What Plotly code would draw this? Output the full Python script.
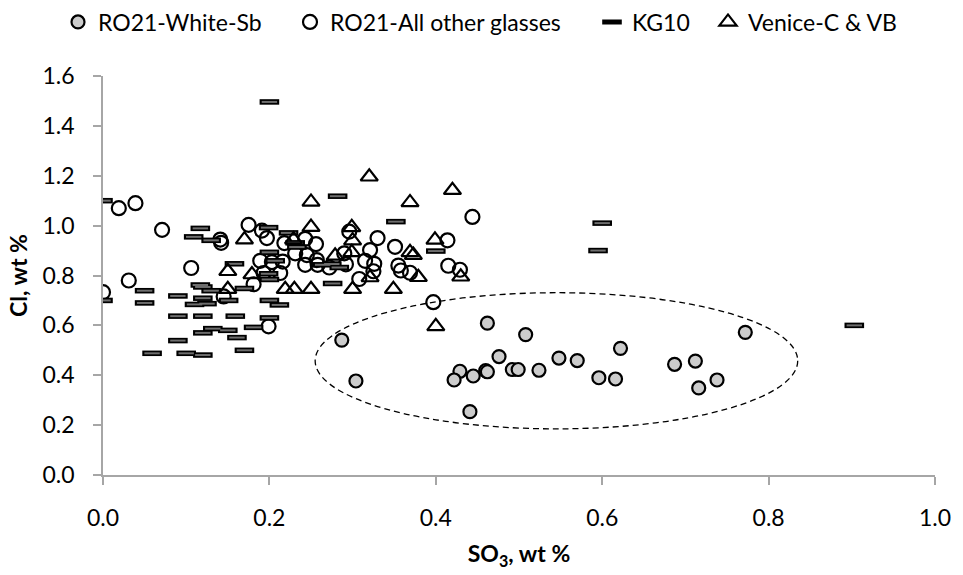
import plotly.graph_objects as go

# RO21-White-Sb (grey filled circles)
sb_x = [0.287, 0.304, 0.462, 0.508, 0.476, 0.429, 0.422, 0.445, 0.441, 0.460, 0.462, 0.492,
        0.499, 0.524, 0.548, 0.570, 0.596, 0.616, 0.622, 0.687, 0.712, 0.716, 0.738, 0.772]
sb_y = [0.541, 0.377, 0.609, 0.563, 0.475, 0.416, 0.381, 0.397, 0.254, 0.419, 0.414, 0.423,
        0.423, 0.420, 0.469, 0.459, 0.390, 0.385, 0.508, 0.444, 0.457, 0.349, 0.381, 0.572]

# RO21-All other glasses (open circles)
oth_x = [0.000, 0.019, 0.039, 0.031, 0.071, 0.106, 0.141, 0.142, 0.145, 0.175, 0.181, 0.189,
         0.191, 0.193, 0.197, 0.199, 0.203, 0.213, 0.216, 0.218, 0.231, 0.243, 0.243, 0.245,
         0.256, 0.257, 0.258, 0.272, 0.290, 0.292, 0.296, 0.308, 0.315, 0.321, 0.326, 0.325,
         0.330, 0.351, 0.355, 0.358, 0.369, 0.414, 0.415, 0.429, 0.444, 0.397]
oth_y = [0.733, 1.070, 1.090, 0.780, 0.983, 0.830, 0.944, 0.931, 0.716, 1.003, 0.765, 0.859,
         0.980, 0.810, 0.950, 0.596, 0.854, 0.810, 0.856, 0.930, 0.889, 0.947, 0.843, 0.882,
         0.926, 0.862, 0.843, 0.832, 0.889, 0.845, 0.976, 0.786, 0.859, 0.902, 0.847, 0.817,
         0.950, 0.915, 0.840, 0.820, 0.811, 0.941, 0.839, 0.823, 1.035, 0.693]

# KG10 (dashes)
kg_x = [0.000, 0.200, 0.282, 0.352, 0.400, 0.600, 0.595, 0.903, 0.117, 0.109, 0.130, 0.199,
        0.223, 0.231, 0.233, 0.200, 0.207, 0.199, 0.200, 0.158, 0.151, 0.000, 0.050, 0.050,
        0.090, 0.117, 0.120, 0.130, 0.120, 0.110, 0.125, 0.090, 0.120, 0.159, 0.170, 0.200,
        0.212, 0.200, 0.181, 0.132, 0.120, 0.150, 0.161, 0.090, 0.170, 0.059, 0.100, 0.120,
        0.264, 0.275, 0.276, 0.284]
kg_y = [1.100, 1.496, 1.118, 1.016, 0.898, 1.010, 0.900, 0.600, 0.989, 0.955, 0.941, 0.992,
        0.971, 0.931, 0.914, 0.893, 0.859, 0.807, 0.784, 0.847, 0.700, 0.700, 0.739, 0.690,
        0.718, 0.762, 0.754, 0.739, 0.709, 0.684, 0.687, 0.637, 0.637, 0.637, 0.748, 0.700,
        0.682, 0.630, 0.592, 0.587, 0.570, 0.580, 0.551, 0.539, 0.500, 0.488, 0.488, 0.481,
        0.843, 0.846, 0.768, 0.832]

# Venice-C & VB (open triangles)
ven_x = [0.320, 0.250, 0.369, 0.420, 0.250, 0.299, 0.300, 0.399, 0.369, 0.373, 0.299, 0.279,
         0.321, 0.379, 0.430, 0.170, 0.229, 0.179, 0.150, 0.150, 0.219, 0.230, 0.250, 0.300,
         0.349, 0.400]
ven_y = [1.196, 1.095, 1.093, 1.142, 0.994, 0.993, 0.940, 0.943, 0.893, 0.882, 0.893, 0.879,
         0.792, 0.793, 0.795, 0.944, 0.944, 0.804, 0.817, 0.745, 0.745, 0.745, 0.745, 0.745,
         0.745, 0.596]

# dashed ellipse bounds (data units)
ell_x0, ell_x1 = 0.255, 0.835
ell_y0, ell_y1 = 0.185, 0.731

FONT = "Lato, 'Open Sans', sans-serif"
FS = 23

fig = go.Figure()
fig.add_trace(go.Scatter(x=sb_x, y=sb_y, mode="markers", name="RO21-White-Sb", legend="legend",
                         marker=dict(symbol="circle", size=13, color="#cccccc",
                                     line=dict(color="black", width=2.2))))
fig.add_trace(go.Scatter(x=oth_x, y=oth_y, mode="markers", name="RO21-All other glasses",
                         legend="legend2",
                         marker=dict(symbol="circle-open", size=14, color="black",
                                     line=dict(color="black", width=2.2))))
fig.add_trace(go.Scatter(x=kg_x, y=kg_y, mode="markers", name="KG10", legend="legend3",
                         marker=dict(symbol="line-ew", size=14, color="black",
                                     line=dict(color="black", width=5.5))))
fig.add_trace(go.Scatter(x=kg_x, y=kg_y, mode="markers", name="KG10", legend="legend3",
                         showlegend=False, hoverinfo="skip",
                         marker=dict(symbol="line-ew", size=11, color="#6e6e6e",
                                     line=dict(color="#6e6e6e", width=2))))
fig.add_trace(go.Scatter(x=ven_x, y=ven_y, mode="markers", name="Venice-C & VB",
                         legend="legend4",
                         marker=dict(symbol="triangle-up-open", size=15, color="black",
                                     line=dict(color="black", width=2.2))))

fig.add_shape(type="circle", xref="x", yref="y", x0=ell_x0, x1=ell_x1, y0=ell_y0, y1=ell_y1,
              line=dict(color="black", width=1.3, dash="6px,4px"), layer="below")

axis_common = dict(showgrid=False, zeroline=False, showline=True, linecolor="#a6a6a6",
                   linewidth=1.5, ticks="outside", tickcolor="#a6a6a6", ticklen=8,
                   tickwidth=1.5, tickfont=dict(family=FONT, size=FS, color="black"))

fig.update_xaxes(range=[0, 1], dtick=0.2, tickformat=".1f", ticklabelstandoff=14,
                 title=dict(text="<b>SO<sub>3</sub>, wt %</b>", standoff=16,
                            font=dict(family=FONT, size=FS, color="black")),
                 **axis_common)
fig.update_yaxes(range=[0, 1.6], dtick=0.2, tickformat=".1f", ticklabelstandoff=14,
                 title=dict(text="<b>Cl, wt %</b>", standoff=8,
                            font=dict(family=FONT, size=FS, color="black")),
                 **axis_common)

W, H = 963, 575
leg_common = dict(orientation="h", xanchor="left", yanchor="middle", xref="container",
                  yref="container", y=1 - 22 / H, itemwidth=30,
                  font=dict(family=FONT, size=FS, color="black"), bgcolor="rgba(0,0,0,0)")
fig.update_layout(
    width=W, height=H,
    margin=dict(l=103, r=19, t=76, b=89),
    paper_bgcolor="white", plot_bgcolor="white",
    showlegend=True,
    legend=dict(x=58 / W, **leg_common),
    legend2=dict(x=290 / W, **leg_common),
    legend3=dict(x=592 / W, **leg_common),
    legend4=dict(x=708 / W, **leg_common),
)

fig.write_html("out.html")
